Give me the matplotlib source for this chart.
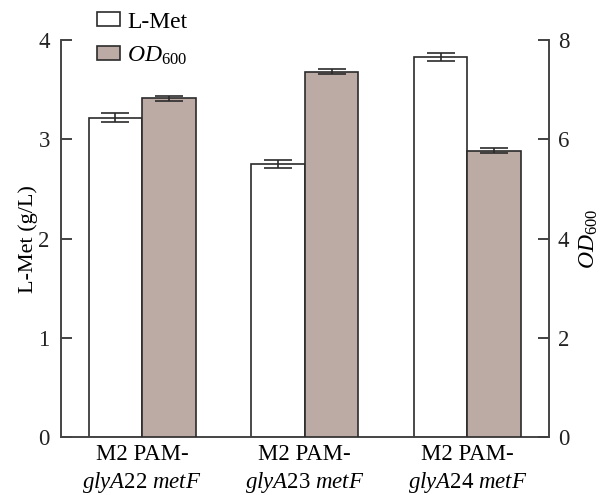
import matplotlib
matplotlib.use("Agg")
import matplotlib.pyplot as plt
import numpy as np

plt.rcParams['font.family'] = ['Liberation Serif', 'DejaVu Serif']
plt.rcParams['mathtext.fontset'] = 'custom'
plt.rcParams['mathtext.rm'] = 'Liberation Serif'
plt.rcParams['mathtext.it'] = 'Liberation Serif:italic'
plt.rcParams['mathtext.bf'] = 'Liberation Serif:bold'

categories = ["M2 PAM-\n$\\mathit{glyA22\\ metF}$",
              "M2 PAM-\n$\\mathit{glyA23\\ metF}$",
              "M2 PAM-\n$\\mathit{glyA24\\ metF}$"]
met_values = [3.22, 2.75, 3.83]
met_err = [0.05, 0.04, 0.04]
od_values = [6.83, 7.36, 5.77]
od_err = [0.05, 0.05, 0.05]

fig = plt.figure(figsize=(6.03, 4.95), dpi=100)
ax = fig.add_axes([0.101, 0.117, 0.809, 0.802])
ax2 = ax.twinx()

x = np.arange(len(categories))
w = 0.33
edge = '#2b2b2b'
grey = '#bbaba4'

b1 = ax.bar(x - w/2, met_values, w, color='white', edgecolor=edge, linewidth=1.2,
            yerr=met_err, capsize=10, error_kw=dict(ecolor=edge, elinewidth=1.2, capthick=1.2),
            label='L-Met', zorder=3)
b2 = ax2.bar(x + w/2, od_values, w, color=grey, edgecolor=edge, linewidth=1.2,
             yerr=od_err, capsize=10, error_kw=dict(ecolor=edge, elinewidth=1.2, capthick=1.2),
             label='$\\mathit{OD}_{\\mathrm{600}}$', zorder=3)

ax.set_xlim(-0.5, 2.5)
ax.set_ylim(0, 4)
ax2.set_ylim(0, 8)
ax.set_yticks([0, 1, 2, 3, 4])
ax2.set_yticks([0, 2, 4, 6, 8])
ax.set_xticks(x)
ax.set_xticklabels(categories, fontsize=16.5, linespacing=1.3)
ax.tick_params(axis='x', length=0, pad=5)
ax.tick_params(axis='y', direction='in', length=8, width=1.2, labelsize=16.5, colors='#222222', pad=8)
ax2.tick_params(axis='y', direction='in', length=8, width=1.2, labelsize=16.5, colors='#222222', pad=6.5)

for a in (ax, ax2):
    a.spines['top'].set_visible(False)
    for s in ('left', 'right', 'bottom'):
        a.spines[s].set_linewidth(1.2)
        a.spines[s].set_color('#444444')

ax.set_ylabel('L-Met (g/L)', fontsize=16, labelpad=0)
ax2.set_ylabel('$\\mathit{OD}_{\\mathrm{600}}$', fontsize=17, labelpad=6)

fig.legend([b1, b2], ['L-Met', '$\\mathit{OD}_{\\mathrm{600}}$'],
           loc='upper left', bbox_to_anchor=(0.133, 1.01), frameon=False,
           fontsize=17, handlelength=1.0, handleheight=0.5, handletextpad=0.3,
           labelspacing=0.5, borderpad=0.2)

fig.savefig('out.png', dpi=100)
